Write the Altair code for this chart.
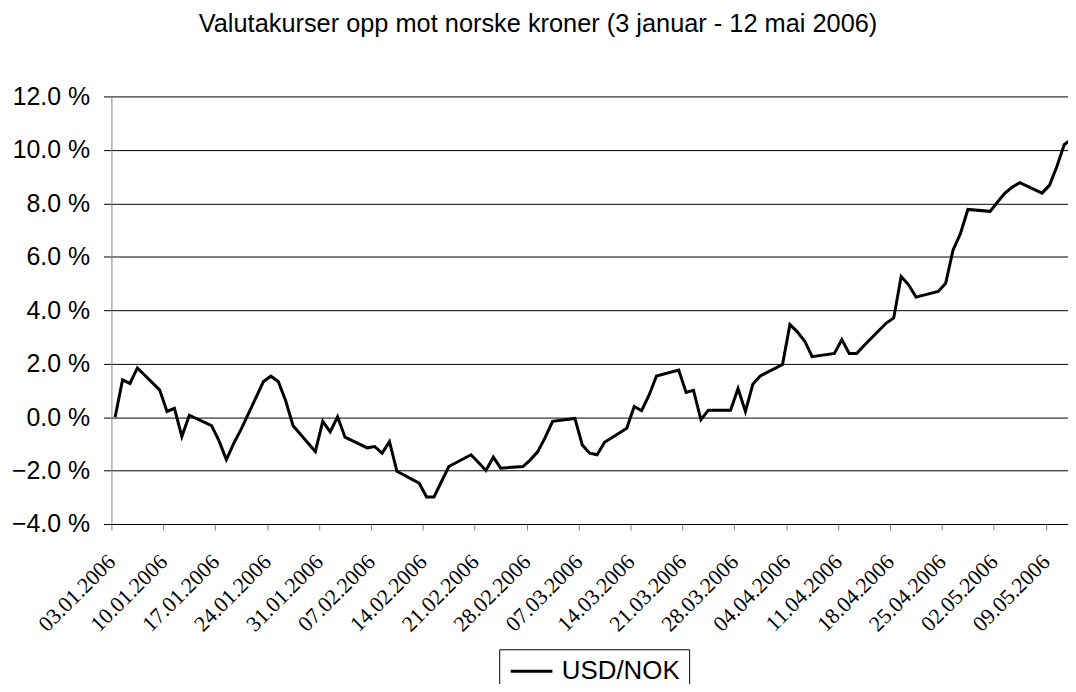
import altair as alt
import pandas as pd

# Trading days (dd.mm.yyyy) and USD/NOK change in % since 3 Jan 2006
dates = [
    "03.01.2006", "04.01.2006", "05.01.2006", "06.01.2006", "09.01.2006", "10.01.2006",
    "11.01.2006", "12.01.2006", "13.01.2006", "16.01.2006", "17.01.2006", "18.01.2006",
    "19.01.2006", "20.01.2006", "23.01.2006", "24.01.2006", "25.01.2006", "26.01.2006",
    "27.01.2006", "30.01.2006", "31.01.2006",
    "01.02.2006", "02.02.2006", "03.02.2006", "06.02.2006", "07.02.2006", "08.02.2006",
    "09.02.2006", "10.02.2006", "13.02.2006", "14.02.2006", "15.02.2006", "16.02.2006",
    "17.02.2006", "20.02.2006", "21.02.2006", "22.02.2006", "23.02.2006", "24.02.2006",
    "27.02.2006", "28.02.2006",
    "01.03.2006", "02.03.2006", "03.03.2006", "06.03.2006", "07.03.2006", "08.03.2006",
    "09.03.2006", "10.03.2006", "13.03.2006", "14.03.2006", "15.03.2006", "16.03.2006",
    "17.03.2006", "20.03.2006", "21.03.2006", "22.03.2006", "23.03.2006", "24.03.2006",
    "27.03.2006", "28.03.2006", "29.03.2006", "30.03.2006", "31.03.2006",
    "03.04.2006", "04.04.2006", "05.04.2006", "06.04.2006", "07.04.2006", "10.04.2006",
    "11.04.2006", "12.04.2006", "13.04.2006", "14.04.2006", "17.04.2006", "18.04.2006",
    "19.04.2006", "20.04.2006", "21.04.2006", "24.04.2006", "25.04.2006", "26.04.2006",
    "27.04.2006", "28.04.2006",
    "01.05.2006", "02.05.2006", "03.05.2006", "04.05.2006", "05.05.2006", "08.05.2006",
    "09.05.2006", "10.05.2006", "11.05.2006", "12.05.2006",
]
usd_nok = [
    0.00, 1.39, 1.26, 1.84, 1.02, 0.21,
    0.33, -0.73, 0.07, -0.32, -0.88, -1.59,
    -0.98, -0.45, 1.33, 1.53, 1.33, 0.61,
    -0.32, -1.29, -0.16,
    -0.55, 0.01, -0.75, -1.15, -1.10, -1.35,
    -0.92, -2.03, -2.47, -2.99, -2.99, -2.42,
    -1.85, -1.41, -1.70, -2.00, -1.50, -1.91,
    -1.85, -1.60,
    -1.29, -0.76, -0.16, -0.05, -1.04, -1.35,
    -1.41, -0.94, -0.42, 0.40, 0.24, 0.82,
    1.54, 1.76, 0.92, 1.00, -0.10, 0.26,
    0.26, 1.07, 0.21, 1.23, 1.54,
    1.97, 3.46, 3.19, 2.84, 2.26, 2.38,
    2.90, 2.38, 2.38, 2.68, 3.52, 3.71,
    5.26, 4.95, 4.49, 4.70, 5.01, 6.25,
    6.87, 7.77,
    7.70, 8.05, 8.38, 8.61, 8.77, 8.38,
    8.67, 9.38, 10.20, 10.40,
]
tick_dates = [
    "03.01.2006", "10.01.2006", "17.01.2006", "24.01.2006", "31.01.2006",
    "07.02.2006", "14.02.2006", "21.02.2006", "28.02.2006", "07.03.2006",
    "14.03.2006", "21.03.2006", "28.03.2006", "04.04.2006", "11.04.2006",
    "18.04.2006", "25.04.2006", "02.05.2006", "09.05.2006",
]
y_ticks = [-4, -2, 0, 2, 4, 6, 8, 10, 12]
series_name = "USD/NOK"
title_text = "Valutakurser opp mot norske kroner (3 januar - 12 mai 2006)"

DAY = 24 * 3600 * 1000


def to_ms(s):
    return int(pd.to_datetime(s, format="%d.%m.%Y").value // 10**6)


df = pd.DataFrame({
    "t": [to_ms(d) + DAY // 2 for d in dates],
    "v": usd_nok,
    "series": series_name,
})
tick_ms = [to_ms(d) for d in tick_dates]
x_domain = [to_ms(dates[0]), to_ms(dates[-1])]

chart = alt.Chart(df).mark_line(strokeWidth=3, clip=True).encode(
    x=alt.X(
        "t:T",
        scale=alt.Scale(type="utc", domain=x_domain, nice=False),
        axis=alt.Axis(
            values=tick_ms,
            labelExpr="utcFormat(datum.value, '%d.%m.%Y')",
            labelAngle=-45, labelAlign="right", labelBaseline="middle",
            labelPadding=28,
            labelFont="Liberation Serif", labelFontSize=22,
            labelColor="black", labelOverlap=False, labelFlush=False,
            tickSize=6, tickColor="#808080", domainColor="black",
            grid=False, title=None,
        ),
    ),
    y=alt.Y(
        "v:Q",
        scale=alt.Scale(domain=[-4, 12], nice=False, zero=False),
        axis=alt.Axis(
            values=y_ticks, labelExpr="format(datum.value, '.1f') + ' %'",
            labelFont="Liberation Sans", labelFontSize=25, labelColor="black",
            labelPadding=14, tickSize=8, tickColor="black",
            domainColor="#808080", grid=True, gridColor="black", gridWidth=1,
            labelFlush=False, title=None,
        ),
    ),
    color=alt.Color(
        "series:N",
        scale=alt.Scale(range=["black"]),
        legend=alt.Legend(
            title=None, orient="none", legendX=390, legendY=556,
            padding=9, strokeColor="black", fillColor="white",
            symbolType="M-1,0H3", symbolSize=441, symbolStrokeWidth=3,
            symbolStrokeColor="black", symbolFillColor="transparent",
            labelFont="Liberation Sans", labelFontSize=26, labelColor="black",
            labelOffset=28,
        ),
    ),
).properties(
    width=962,
    height=430,
    padding={"left": 104, "top": 87, "right": 0, "bottom": 159},
    autosize="none",
    background="white",
    title=alt.TitleParams(
        text=title_text, font="Liberation Sans", fontSize=25.5,
        fontWeight="normal", color="black", anchor="middle",
        dx=-52, offset=27, baseline="alphabetic",
    ),
).configure_view(stroke=None)

chart.save("out.html", embed_options={"renderer": "svg", "actions": False})
